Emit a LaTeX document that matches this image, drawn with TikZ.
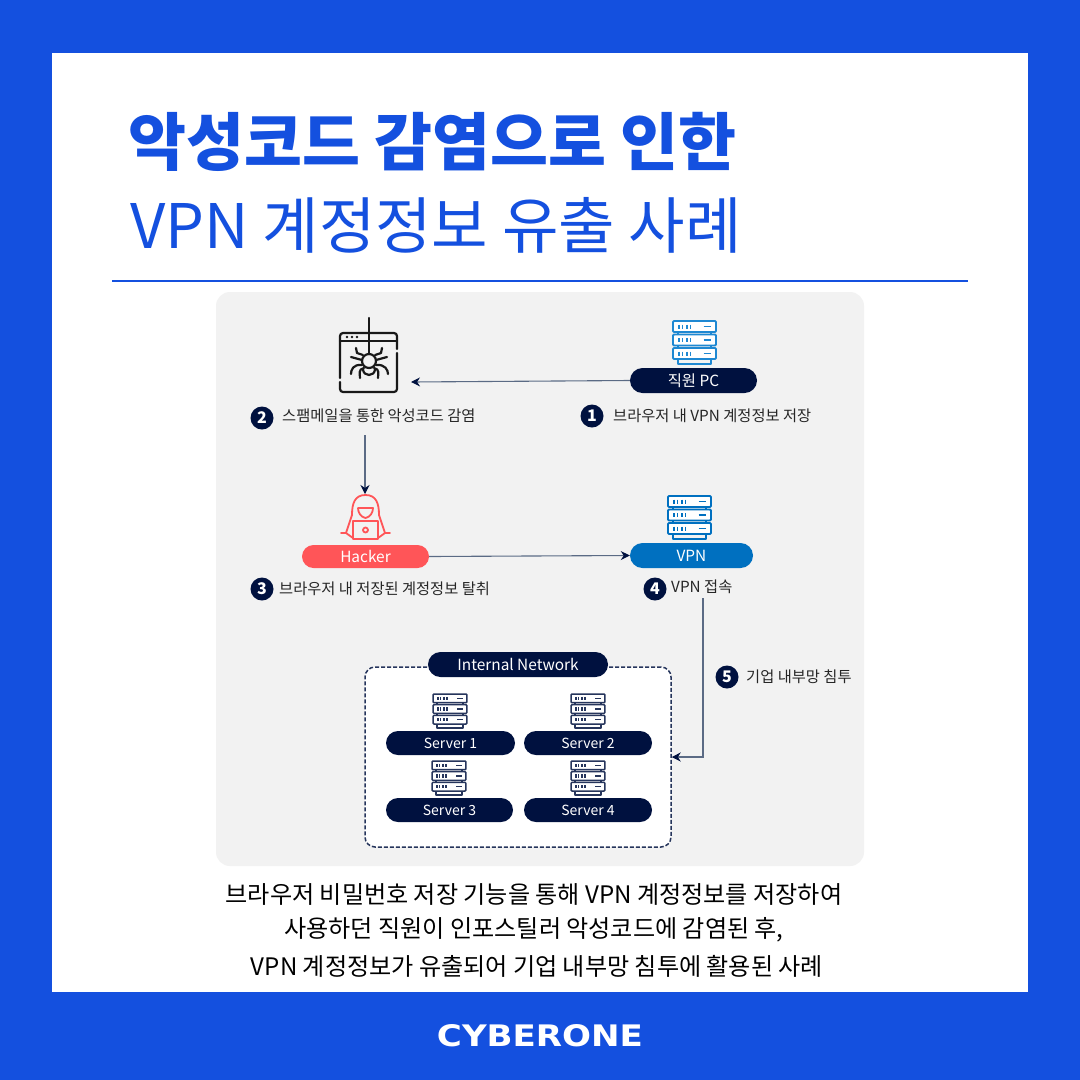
\documentclass[tikz,border=0pt]{standalone}
\usepackage{fontspec}
\setmainfont{Noto Sans CJK KR}
\newfontfamily\logofont{DejaVu Sans}
\usetikzlibrary{arrows.meta}
\definecolor{frame}{HTML}{1450DF}
\definecolor{panel}{HTML}{F2F2F2}
\definecolor{navy}{HTML}{00113F}
\definecolor{vpnblue}{HTML}{0070C0}
\definecolor{iconblue}{HTML}{1E88D2}
\definecolor{red1}{HTML}{FF5558}
\definecolor{conn}{HTML}{5B6B85}
\newcommand{\fs}[1]{\fontsize{#1}{#1}\selectfont}
\tikzset{
 pill/.style={fill=#1,text=white,inner sep=0pt,rounded corners=11.5pt,font=\fs{15.4}},
 srvpill/.style={pill=navy,minimum height=24pt,rounded corners=12pt,font=\fs{14}},
 lbl/.style={anchor=west,inner sep=0pt,font=\fs{15.3},text=black!85},
 num/.style={circle,fill=navy,text=white,minimum size=23pt,inner sep=0pt,font=\fs{16}\bfseries},
 link/.style={conn,line width=1.1pt,-{Stealth[length=9pt,width=9pt,color=navy]}},
 body/.style={inner sep=0pt,font=\fs{24.1},text=black},
}
% server icon: centre x,y, scale, colour, line width
\newcommand{\srv}[5]{%
 \begin{scope}[shift={(#1,#2)},scale=#3,draw=#4,line width=#5pt,line join=round]
  \foreach \yy in {-21.5,-8,5.5}{
   \draw[rounded corners=1pt,fill=white] (-21.5,\yy) rectangle ++(43,11);
   \draw (-15.5,\yy+3.5) -- ++(0,4) (-12,\yy+3.5) -- ++(0,4) (-7.5,\yy+3.5) -- ++(0,4) (-4,\yy+3.5) -- ++(0,4);
   \draw (9,\yy+5.5) -- ++(7,0);
  }
  \draw (-16.5,-10.5) -- (-16.5,-8) (16.5,-10.5) -- (16.5,-8) (-16.5,3) -- (-16.5,5.5) (16.5,3) -- (16.5,5.5);
  \draw (-16.5,16.5) -- (-16.5,21.5) -- (16.5,21.5) -- (16.5,16.5);
 \end{scope}}
\begin{document}
\begin{tikzpicture}[x=1pt,y=-1pt]
\useasboundingbox (0,0) rectangle (1080,1080);
\fill[frame] (0,0) rectangle (1080,1080);
\fill[white] (52,53) rectangle (1028,992);
\node[anchor=west,inner sep=0pt,text=frame,font=\fs{63}\bfseries] (title1) at (128,142) {악성코드 감염으로 인한};
\node[anchor=west,inner sep=0pt,text=frame,font=\fs{61.4}] (title2) at (130,225) {VPN 계정정보 유출 사례};
\draw[frame,line width=2pt] (112,281) -- (968,281);
\fill[panel,rounded corners=14pt] (216,292) rectangle (864,866);

% spider window
\begin{scope}[black!90,line width=2.2pt,line cap=round,line join=round]
 \draw (340,378) -- (340,336) arc[start angle=180,end angle=270,radius=3] -- (394,333) arc[start angle=270,end angle=360,radius=3] -- (397,349);
 \draw (397,353) -- (397,389) arc[start angle=0,end angle=90,radius=3] -- (343,392) arc[start angle=90,end angle=180,radius=3] -- (340,382);
 \draw (340,341) -- (397,341);
 \foreach \xx in {347,352,357}{\fill (\xx,337) circle (1.3pt);}
 \draw (369,318) -- (369,354);
 \draw (369,361) circle (7pt);
 \draw (363,369) .. controls (363,377) and (375,377) .. (375,369);
 \draw (363,355) -- (357,353) -- (356,348);
 \draw (375,355) -- (381,353) -- (382,348);
 \draw (362,360) -- (351,357);
 \draw (376,360) -- (387,357);
 \draw (362,365) .. controls (353,364) and (351,370) .. (351,374);
 \draw (376,365) .. controls (385,364) and (388,370) .. (388,374);
 \draw (364,368) .. controls (358,369) and (360,374) .. (360,378);
 \draw (374,368) .. controls (380,369) and (378,374) .. (378,378);
\end{scope}
\coordinate (spiderin) at (411,382);

\srv{694.5}{342.5}{1}{iconblue}{1.8}
\node[pill=navy,minimum width=127pt,minimum height=25pt,rounded corners=12.5pt] (pc) at (693.5,380.5) {직원 PC};
\node[num] (n1) at (592,416) {1};
\node[lbl] (t1) at (613,416) {브라우저 내 VPN 계정정보 저장};
\node[num] (n2) at (262,418) {2};
\node[lbl] (t2) at (282,416) {스팸메일을 통한 악성코드 감염};
\coordinate (spiderout) at (365,435);
\coordinate (hackerin) at (365,494);

% hacker
\begin{scope}[red1,line width=1.8pt,line cap=round,line join=round]
 \draw (352,515) .. controls (352,503) and (355,495) .. (365.5,495) .. controls (376,495) and (379,503) .. (379,515);
 \draw (358,508) -- (373,508) .. controls (373,513) and (370,517) .. (365.5,518) .. controls (361,517) and (358,513) .. (358,508);
 \draw (352,515) -- (346,533) (379,515) -- (385,533);
 \draw (341,533) -- (346,533) -- (353,538);
 \draw (390,533) -- (385,533) -- (378,538);
 \draw (353,521) rectangle (378,539);
 \draw (365.5,530) circle (2.5pt);
\end{scope}
\node[pill=red1,minimum width=127pt,minimum height=23pt] (hacker) at (365.5,556.5) {Hacker};
\srv{689.5}{517.5}{1}{vpnblue}{1.8}
\node[pill=vpnblue,minimum width=123pt,minimum height=25pt,rounded corners=12.5pt] (vpn) at (691.5,555.5) {VPN};
\node[num] (n3) at (262,589) {3};
\node[lbl] (t3) at (279,589) {브라우저 내 저장된 계정정보 탈취};
\node[num] (n4) at (655,589) {4};
\node[lbl] (t4) at (671,587) {VPN 접속};
\node[num] (n5) at (727,677) {5};
\node[lbl] (t5) at (746,677) {기업 내부망 침투};
\coordinate (vpnout) at (703,598);

% internal network
\node[draw=navy!85!white,fill=white,dash pattern=on 4pt off 2pt,line width=1.5pt,rounded corners=10pt,minimum width=306pt,minimum height=180pt,inner sep=0pt] (net) at (518,757) {};
\node[pill=navy,minimum width=180pt,minimum height=25pt,rounded corners=12.5pt] (inet) at (518,664.5) {Internal Network};
\srv{450}{711}{0.79}{navy!85!white}{1.5}
\srv{588}{711}{0.79}{navy!85!white}{1.5}
\srv{449}{778}{0.79}{navy!85!white}{1.5}
\srv{588}{778}{0.79}{navy!85!white}{1.5}
\node[srvpill,minimum width=129pt] (s1) at (450.5,743) {Server 1};
\node[srvpill,minimum width=128pt] (s2) at (588,743) {Server 2};
\node[srvpill,minimum width=127pt] (s3) at (449.5,810) {Server 3};
\node[srvpill,minimum width=128pt] (s4) at (588,810) {Server 4};

% connectors
\draw[link] (pc.west) -- (spiderin);
\draw[link] (spiderout) -- (hackerin);
\draw[link] (hacker.east) -- (vpn.west);
\draw[link] (vpnout) |- (net.east);

% body text
\node[body] (b1) at (534,894) {브라우저 비밀번호 저장 기능을 통해 VPN 계정정보를 저장하여};
\node[body] (b2) at (534,930) {사용하던 직원이 인포스틸러 악성코드에 감염된 후,};
\node[body] (b3) at (537,966) {VPN 계정정보가 유출되어 기업 내부망 침투에 활용된 사례};

\node[inner sep=0pt,text=white] (logo) at (540,1036) {\resizebox{206pt}{22pt}{\logofont\bfseries CYBERONE}};
\end{tikzpicture}
\end{document}
